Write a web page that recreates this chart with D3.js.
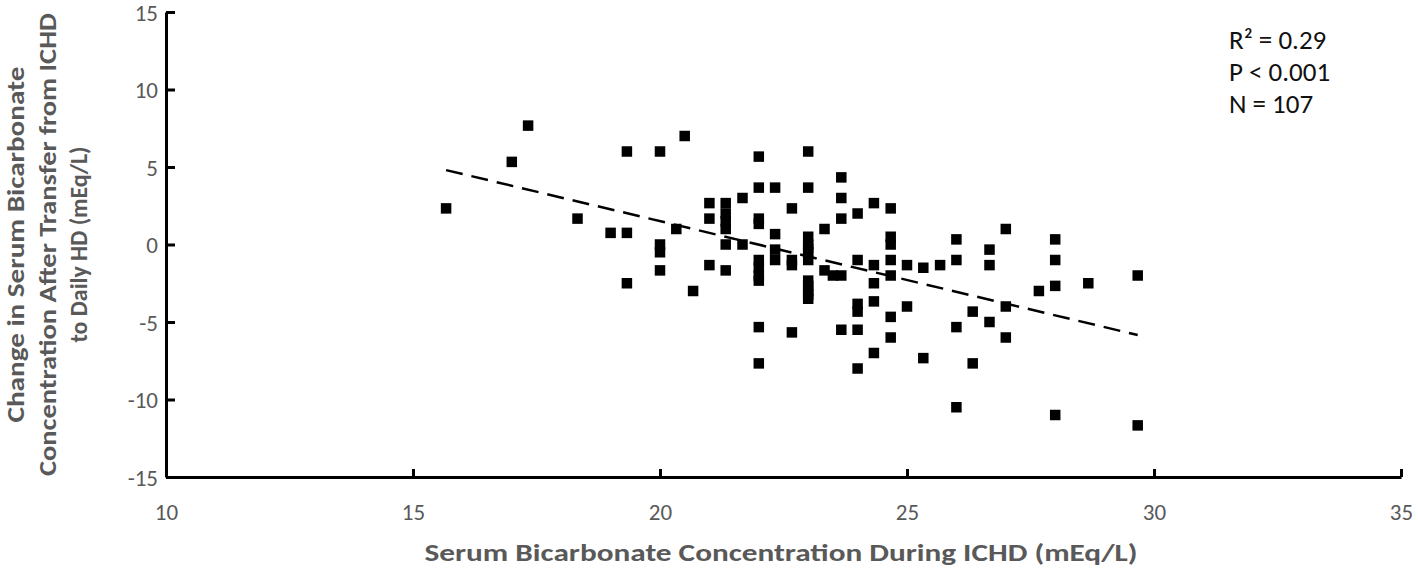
<!DOCTYPE html>
<html>
<head>
<meta charset="utf-8">
<script src="https://cdn.jsdelivr.net/npm/d3@7"></script>
<style>
  body { margin: 0; background: #fff; }
  svg { display: block; font-family: Carlito, Calibri, Lato, "Open Sans", sans-serif; }
</style>
</head>
<body>
<svg></svg>
<script>
// Canvas and plot box
var canvasSize = {width: 1418, height: 569}
var margin = {top: 12, right: 17, bottom: 92, left: 166},
    width = canvasSize.width - margin.left - margin.right,
    height = canvasSize.height - margin.top - margin.bottom;

// Serum bicarbonate during ICHD (x) vs change after transfer (y)
var xValues = [17.33, 17, 15.67, 18.33, 19, 19.33, 19.33, 20, 20.5, 19.33,
    20, 20, 20, 20.33, 20.67, 21, 21, 21, 22, 23,
    23.67, 22, 22.33, 23, 23.67, 21.67, 21.33, 21.33, 21.33, 21.33,
    21.33, 21.67, 21.33, 22, 22, 22, 22, 22, 22, 22,
    22, 22.33, 22.33, 22.33, 22.67, 22.67, 22.67, 22.67, 23, 23,
    23, 23, 23, 23, 23, 23, 23.33, 23.33, 23.5,
    23.67, 23.67, 23.67, 24, 24, 24, 24, 24, 24, 24.33,
    24.33, 24.33, 24.33, 24.33, 24.67, 24.67, 24.67, 24.67, 24.67, 24.67,
    24.67, 25, 25, 25.33, 25.33, 25.67, 26, 26, 26, 26,
    26.33, 26.33, 26.67, 26.67, 26.67, 27, 27, 27, 27.67, 28,
    28, 28, 28, 28.67, 29.67, 29.67, 23, 23]
var yValues = [7.67, 5.33, 2.33, 1.67, 0.75, 0.75, 6, 6, 7, -2.5,
    -1.67, 0, -0.5, 1, -3, 2.67, 1.67, -1.33, 5.67, 6,
    4.33, 3.67, 3.67, 3.67, 3, 3, 2.67, 2, 1.5, 1,
    0, 0, -1.67, 1.67, 1.33, -1, -1.5, -2, -2.33, -5.33,
    -7.67, 0.67, -0.33, -1, 2.33, -1, -1.33, -5.67, 0.5, 0,
    -0.5, -1, -2.33, -2.67, -3, -3.5, 1, -1.67, -2,
    -2, -5.5, 1.67, 2, -1, -3.83, -4.33, -5.5, -8, 2.67,
    -1.33, -2.5, -3.67, -7, 2.33, 0.5, 0, -1, -2, -4.67,
    -6, -1.33, -4, -1.5, -7.33, -1.33, 0.33, -1, -5.33, -10.5,
    -4.33, -7.67, -0.33, -1.33, -5, 1, -4, -6, -3, 0.33,
    -1, -2.67, -11, -2.5, -2, -11.67, -0.25, -3.25]

// Fitted trend line ends as drawn in the picture
var trendX = [15.67, 29.67]
var trendY = [4.8, -5.84]

var xTicks = [10, 15, 20, 25, 30, 35]
var yTicks = [-15, -10, -5, 0, 5, 10, 15]
var xTitle = "Serum Bicarbonate Concentration During ICHD (mEq/L)"
var yTitle = ["Change in Serum Bicarbonate",
              "Concentration After Transfer from ICHD",
              "to Daily HD (mEq/L)"]
var yTitleLen = [356, 463, 196]
var statsText = ["R\u00B2 = 0.29", "P < 0.001", "N = 107"]

var grey = "#595959"

var svg = d3.select("svg")
    .attr("width", canvasSize.width)
    .attr("height", canvasSize.height)

var x = d3.scaleLinear().domain([10, 35]).range([0, width])
var y = d3.scaleLinear().domain([-15, 15]).range([height, 0])

var view = svg.append("g")
    .attr("transform", `translate(${margin.left},${margin.top})`)

// Axes, ticks point inside like the original; plain hyphen for negatives
var fmt = d => String(d)
var xAxis = d3.axisBottom(x).tickValues(xTicks).tickFormat(fmt)
    .tickSizeInner(-8).tickSizeOuter(0).tickPadding(27)
var yAxis = d3.axisLeft(y).tickValues(yTicks).tickFormat(fmt)
    .tickSizeInner(-9).tickSizeOuter(0).tickPadding(8)

var xAxisG = view.append("g")
    .attr("transform", `translate(0,${height})`)
    .call(xAxis)
var yAxisG = view.append("g").call(yAxis)

;[xAxisG, yAxisG].forEach(g => {
    g.select(".domain").attr("stroke", "#000").attr("stroke-width", 3)
    g.selectAll(".tick line").attr("stroke", "#000").attr("stroke-width", 3)
    g.selectAll(".tick text")
        .attr("fill", grey)
        .style("font-size", "23px")
        .style("font-family", "Carlito, Calibri, Lato, sans-serif")
})
xAxisG.selectAll(".tick text").attr("dy", "0.71em")
yAxisG.selectAll(".tick text").attr("dy", "0.36em")

// Points
var points = xValues.map((d, i) => ({x: d, y: yValues[i]}))
var side = 10.5
view.append("g").selectAll("rect")
    .data(points)
    .enter().append("rect")
        .attr("x", d => x(d.x) - side / 2)
        .attr("y", d => y(d.y) - side / 2)
        .attr("width", side)
        .attr("height", side)
        .attr("fill", "#000")

// Dashed trend line
view.append("line")
    .attr("x1", x(trendX[0])).attr("y1", y(trendY[0]))
    .attr("x2", x(trendX[1])).attr("y2", y(trendY[1]))
    .attr("stroke", "#000")
    .attr("stroke-width", 2.5)
    .attr("stroke-dasharray", "17,9")

// Axis titles
svg.append("text")
    .attr("x", 781)
    .attr("y", 561)
    .attr("text-anchor", "middle")
    .attr("fill", grey)
    .attr("font-weight", "bold")
    .attr("textLength", 713)
    .attr("lengthAdjust", "spacingAndGlyphs")
    .style("font-size", "25px")
    .text(xTitle)

var yTitleG = svg.append("g")
    .attr("transform", `translate(24,${margin.top + height / 2}) rotate(-90)`)
yTitleG.selectAll("text")
    .data(yTitle)
    .enter().append("text")
        .attr("x", 0)
        .attr("y", (d, i) => i * 31.5)
        .attr("text-anchor", "middle")
        .attr("fill", grey)
        .attr("font-weight", "bold")
        .attr("textLength", (d, i) => yTitleLen[i])
        .attr("lengthAdjust", "spacingAndGlyphs")
        .style("font-size", "24px")
        .text(d => d)

// Stats box
svg.append("g").selectAll("text")
    .data(statsText)
    .enter().append("text")
        .attr("x", 1229)
        .attr("y", (d, i) => 49 + i * 32)
        .attr("fill", "#111")
        .style("font-size", "27px")
        .text(d => d)
</script>
</body>
</html>
